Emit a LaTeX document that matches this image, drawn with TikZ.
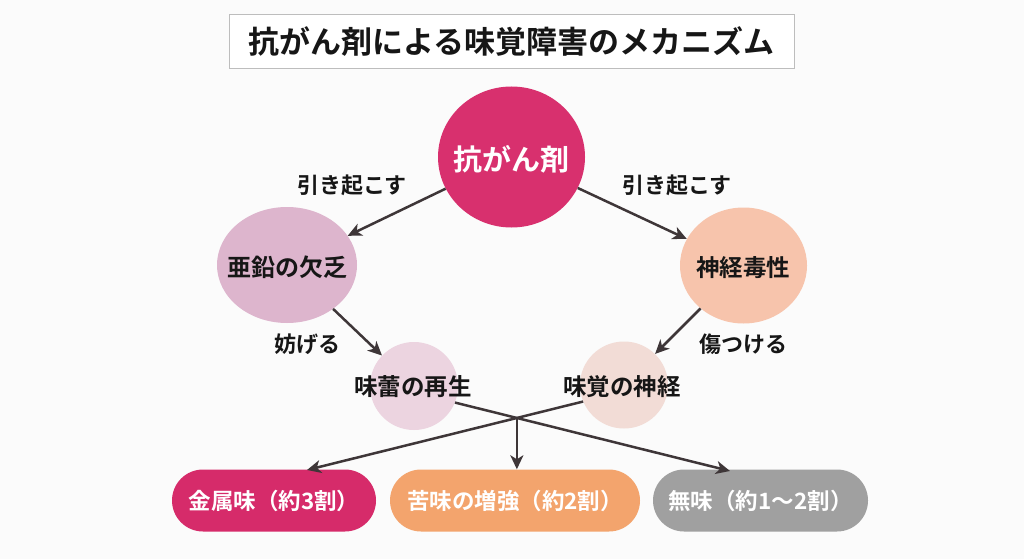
\documentclass[tikz,border=0pt]{standalone}
\usepackage{fontspec}
\setmainfont{Noto Sans CJK JP}[BoldFont={* Bold}]
\usetikzlibrary{shapes.geometric,arrows.meta}
\definecolor{bgc}{HTML}{FBFBFB}
\definecolor{arrowc}{HTML}{3E3638}
\definecolor{inkc}{HTML}{161616}
\definecolor{topc}{HTML}{D8306E}
\definecolor{zincc}{HTML}{DDB5CD}
\definecolor{neuroc}{HTML}{F7C4AC}
\definecolor{miraic}{HTML}{ECD4E0}
\definecolor{mikakuc}{HTML}{F2DCD6}
\definecolor{metalc}{HTML}{D62B6A}
\definecolor{bitterc}{HTML}{F3A46D}
\definecolor{tastec}{HTML}{A0A0A0}
\definecolor{framec}{HTML}{BDBDBD}
\newcommand\fsz[1]{\fontsize{#1pt}{#1pt}\selectfont}
\begin{document}
\begin{tikzpicture}[x=1pt,y=-1pt,
  blob/.style={ellipse, inner sep=0pt, draw=none},
  arr/.style={draw=arrowc, line width=2.5pt, -{Stealth[length=14pt,width=13pt,inset=4pt]}},
  lbl/.style={font=\fsz{22}\bfseries, text=inkc, inner sep=0pt},
  ntext/.style={font=\fsz{23.5}\bfseries, text=inkc, inner sep=0pt},
  pill/.style={rounded corners=31pt, minimum height=62pt, inner sep=0pt, text=white, font=\fsz{22.5}\bfseries}
]
\fill[bgc] (0,0) rectangle (1024,559);
\useasboundingbox (0,0) rectangle (1024,559);

% title
\node[draw=framec, line width=1pt, fill=white, minimum width=565pt, minimum height=54pt, inner sep=0pt,
      font=\fsz{31}\bfseries, text=inkc] (title) at (511.5,42) {抗がん剤による味覚障害のメカニズム};

% circles
\node[blob, fill=topc, minimum width=147pt, minimum height=141pt] (top) at (511.5,157) {};
\node[font=\fsz{29}\bfseries, text=white, inner sep=0pt] (topT) at (511,159) {抗がん剤};

\node[blob, fill=zincc, minimum width=140pt, minimum height=116pt] (zinc) at (287,265) {};
\node[ntext, font=\fsz{24}\bfseries] (zincT) at (287,267) {亜鉛の欠乏};

\node[blob, fill=neuroc, minimum width=127pt, minimum height=116pt] (neuro) at (743.5,265.5) {};
\node[ntext] (neuroT) at (743,268) {神経毒性};

\node[blob, fill=miraic, minimum width=88pt, minimum height=88pt] (mirai) at (414,386) {};
\node[ntext] (miraiT) at (413,387) {味蕾の再生};

\node[blob, fill=mikakuc, minimum width=88pt, minimum height=87pt] (mikaku) at (624,385) {};
\node[ntext] (mikakuT) at (622,387) {味覚の神経};

% pills
\node[pill, fill=metalc, minimum width=204pt] (metal) at (274,500.5) {金属味（約3割）};
\node[pill, fill=bitterc, minimum width=250pt] (bitter) at (515,500.5) {苦味の増強（約2割）};
\node[pill, fill=tastec, minimum width=215pt] (tasteless) at (760.5,500.5) {無味（約1～2割）};

% labels
\node[lbl] (l1) at (352,185) {引き起こす};
\node[lbl] (l2) at (677,185) {引き起こす};
\node[lbl] (l3) at (307,344) {妨げる};
\node[lbl] (l4) at (743,344) {傷つける};

% arrows
\draw[arr] (top) -- (zinc);
\draw[arr] (top) -- (neuro);
\draw[arr] (zinc) -- (mirai);
\draw[arr] (neuro) -- (mikaku);

\coordinate (sA) at (mirai.-22);
\coordinate (sB) at (mikaku.202);
\coordinate (tL) at (307,470);
\coordinate (tR) at (730,471);
\coordinate (X) at (intersection of sA--tR and sB--tL);
\draw[arr] (sA) -- (tR);
\draw[arr] (sB) -- (tL);
\draw[arr] (X) -- (X |- bitter.north);
\end{tikzpicture}
\end{document}
